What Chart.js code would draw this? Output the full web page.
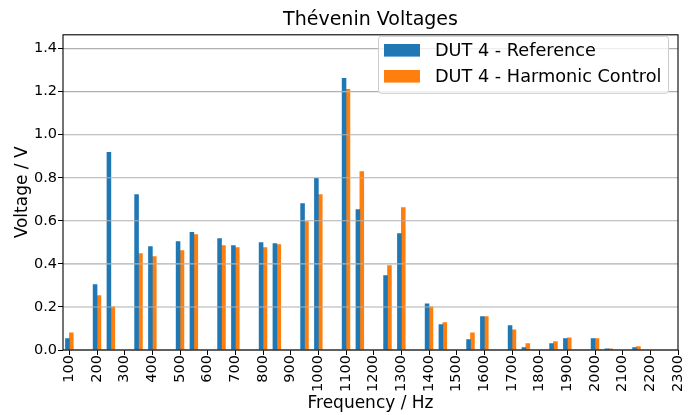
<!DOCTYPE html>
<html>
<head>
<meta charset="utf-8">
<script src="https://cdn.jsdelivr.net/npm/chart.js@4.4.0/dist/chart.umd.min.js"></script>
<style>
  body { margin: 0; background: #fff; }
</style>
</head>
<body>
<canvas id="chart" width="698" height="415"></canvas>
<script>
// harmonic frequencies (Hz)
const frequencies = [100, 200, 250, 350, 400, 500, 550, 650, 700, 800, 850, 950, 1000,
  1100, 1150, 1250, 1300, 1400, 1450, 1550, 1600, 1700, 1750, 1850, 1900, 2000, 2050, 2150];
// DUT 4 - Reference (V)
const referenceVolts = [0.053, 0.304, 0.918, 0.722, 0.480, 0.504, 0.546, 0.518, 0.485, 0.499, 0.494, 0.680, 0.797,
  1.262, 0.652, 0.346, 0.541, 0.215, 0.118, 0.048, 0.155, 0.113, 0.011, 0.030, 0.053, 0.053, 0.006, 0.011];
// DUT 4 - Harmonic Control (V)
const harmonicVolts = [0.080, 0.253, 0.200, 0.448, 0.434, 0.462, 0.536, 0.485, 0.476, 0.476, 0.490, 0.597, 0.722,
  1.211, 0.829, 0.392, 0.662, 0.200, 0.127, 0.080, 0.155, 0.094, 0.030, 0.039, 0.057, 0.053, 0.006, 0.016];
const xTicks = [100, 200, 300, 400, 500, 600, 700, 800, 900, 1000, 1100, 1200,
  1300, 1400, 1500, 1600, 1700, 1800, 1900, 2000, 2100, 2200, 2300];
const yTicks = [0, 0.2, 0.4, 0.6, 0.8, 1.0, 1.2, 1.4];

const FONT = 'DejaVu Sans';
const BLUE = '#1f77b4';
const ORANGE = '#ff7f0e';

// grid over the bars, frame and legend inside the plot (matplotlib look)
const overlayPlugin = {
  id: 'overlay',
  afterDatasetsDraw(chart) {
    const { ctx, chartArea: a, scales } = chart;
    ctx.save();
    ctx.strokeStyle = '#b0b0b0';
    ctx.lineWidth = 1.1;
    yTicks.forEach(v => {
      const y = scales.y.getPixelForValue(v);
      ctx.beginPath();
      ctx.moveTo(a.left, y);
      ctx.lineTo(a.right, y);
      ctx.stroke();
    });
    ctx.strokeStyle = '#000';
    ctx.lineWidth = 1.1;
    ctx.strokeRect(a.left, a.top, a.right - a.left, a.bottom - a.top);
    ctx.restore();
  },
  afterDraw(chart) {
    const { ctx, chartArea: a } = chart;
    const boxW = 290, boxH = 57;
    const x0 = a.right - 10 - boxW, y0 = a.top + 1;
    ctx.save();
    ctx.fillStyle = 'rgba(255,255,255,0.8)';
    ctx.strokeStyle = '#cccccc';
    ctx.lineWidth = 1;
    ctx.beginPath();
    ctx.roundRect(x0 + 0.5, y0 + 0.5, boxW, boxH, 3);
    ctx.fill();
    ctx.stroke();
    ctx.font = '17.7px "' + FONT + '"';
    ctx.textBaseline = 'middle';
    chart.data.datasets.forEach((ds, i) => {
      const cy = y0 + 14.5 + i * 26;
      ctx.fillStyle = ds.backgroundColor;
      ctx.fillRect(x0 + 6, cy - 6.3, 36, 12.6);
      ctx.fillStyle = '#000';
      ctx.fillText(ds.label, x0 + 57, cy + 1);
    });
    ctx.restore();
  }
};

const ctx = document.getElementById('chart').getContext('2d');
new Chart(ctx, {
  type: 'bar',
  data: {
    datasets: [
      {
        label: 'DUT 4 - Reference',
        data: frequencies.map((f, i) => ({ x: f, y: referenceVolts[i] })),
        backgroundColor: BLUE,
        barThickness: 3.9
      },
      {
        label: 'DUT 4 - Harmonic Control',
        data: frequencies.map((f, i) => ({ x: f, y: harmonicVolts[i] })),
        backgroundColor: ORANGE,
        barThickness: 3.9
      }
    ]
  },
  options: {
    responsive: false,
    animation: false,
    devicePixelRatio: 1,
    layout: { padding: { left: 0, right: 20, top: 0, bottom: 0 } },
    plugins: {
      legend: { display: false },
      tooltip: { enabled: false },
      title: {
        display: true,
        text: 'Thévenin Voltages',
        color: '#000',
        fullSize: false,
        font: { family: FONT, size: 19, weight: 'normal' },
        padding: { top: 9, bottom: 3 }
      }
    },
    scales: {
      x: {
        type: 'linear',
        min: 77,
        max: 2300,
        offset: false,
        afterBuildTicks: s => { s.ticks = xTicks.map(v => ({ value: v })); },
        afterFit: s => { s.height = 65; },
        grid: { display: true, drawOnChartArea: false, drawTicks: true, tickLength: 5, tickColor: '#000', offset: false },
        border: { display: false },
        ticks: {
          autoSkip: false,
          minRotation: 90,
          maxRotation: 90,
          color: '#000',
          padding: 0,
          font: { family: FONT, size: 14.5 },
          callback: v => String(v)
        },
        title: {
          display: true,
          text: 'Frequency / Hz',
          color: '#000',
          font: { family: FONT, size: 17 },
          padding: { top: 0, bottom: 1 }
        }
      },
      y: {
        min: 0,
        max: 1.464,
        afterBuildTicks: s => { s.ticks = yTicks.map(v => ({ value: v })); },
        afterFit: s => { s.width = 63; },
        grid: { display: true, drawOnChartArea: false, drawTicks: true, tickLength: 5, tickColor: '#000' },
        border: { display: false },
        ticks: {
          color: '#000',
          padding: 1,
          font: { family: FONT, size: 14.5 },
          callback: v => v.toFixed(1)
        },
        title: {
          display: true,
          text: 'Voltage / V',
          color: '#000',
          font: { family: FONT, size: 17 },
          padding: { top: 12, bottom: 0 }
        }
      }
    }
  },
  plugins: [overlayPlugin]
});
</script>
</body>
</html>
